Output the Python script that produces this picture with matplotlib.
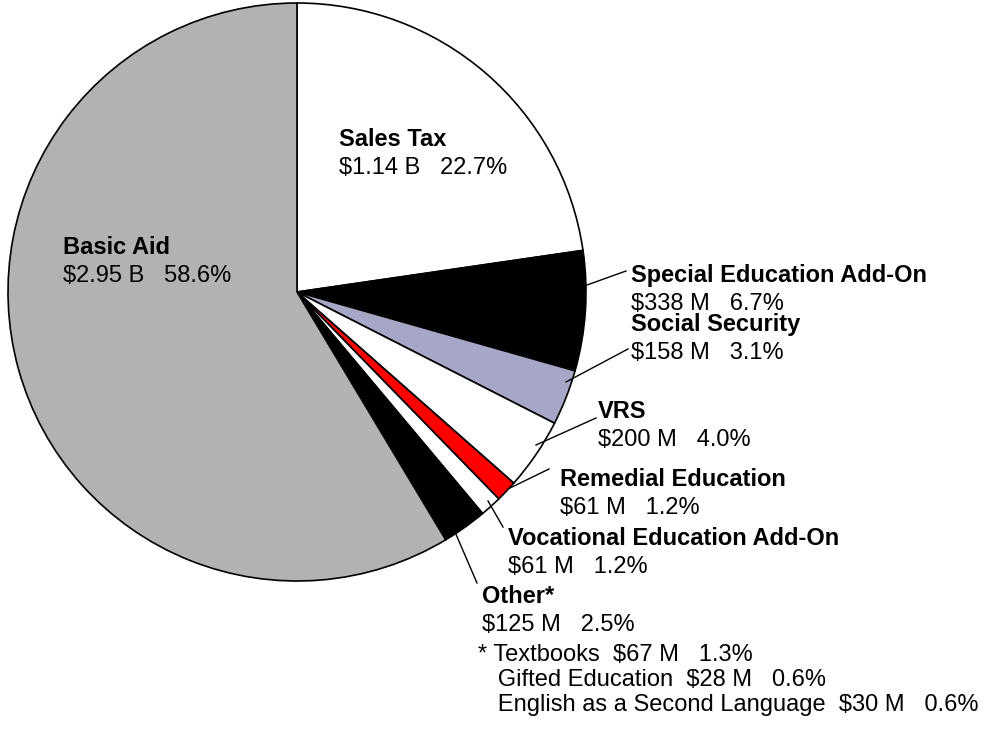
import matplotlib
matplotlib.use("Agg")
import matplotlib.pyplot as plt

plt.rcParams['font.family'] = ['Liberation Sans', 'DejaVu Sans']

# slices, clockwise from 12 o'clock
names = ["Sales Tax", "Special Education Add-On", "Social Security", "VRS",
         "Remedial Education", "Vocational Education Add-On", "Other*", "Basic Aid"]
amounts = ["$1.14 B", "$338 M", "$158 M", "$200 M", "$61 M", "$61 M", "$125 M", "$2.95 B"]
shares = [22.7, 6.7, 3.1, 4.0, 1.2, 1.2, 2.5, 58.6]
colors = ["white", "black", "#A6A6C6", "white", "#FF0000", "white", "black", "#B2B2B2"]

footnote = ["* Textbooks  $67 M   1.3%",
            "   Gifted Education  $28 M   0.6%",
            "   English as a Second Language  $30 M   0.6%"]

W, H = 987, 731


def fy(py):
    # pixel row (from top) -> data y
    return H - py


fig = plt.figure(figsize=(W / 100, H / 100), dpi=100)
ax = fig.add_axes([0, 0, 1, 1])

cx, cy, r = 297, 292, 289
ax.pie(shares, colors=colors, startangle=90, counterclock=False,
       center=(cx, fy(cy)), radius=r, normalize=True,
       wedgeprops=dict(edgecolor="black", linewidth=1.2))

# label anchor (left x, baseline of bold line) and leader line (pie end, label end)
label_pos = {
    0: (339, 146),
    1: (631, 282),
    2: (631, 331),
    3: (598, 418),
    4: (560, 486),
    5: (508, 545),
    6: (482, 603),
    7: (63, 254),
}
leaders = {
    1: ((587, 285), (626, 271)),
    2: ((566, 382), (628, 349)),
    3: ((536, 445), (596, 418)),
    4: ((510, 488), (549, 469)),
    5: ((488, 501), (503, 527)),
    6: ((455, 532), (477, 583)),
}

fs = 17
for i, name in enumerate(names):
    x, base = label_pos[i]
    ax.text(x, fy(base), name, fontsize=fs, fontweight="bold", va="baseline", ha="left")
    ax.text(x, fy(base + 28), f"{amounts[i]}   {shares[i]:.1f}%", fontsize=fs,
            va="baseline", ha="left")
    if i in leaders:
        (x0, y0), (x1, y1) = leaders[i]
        ax.plot([x0, x1], [fy(y0), fy(y1)], color="black", lw=1.0)

for k, line in enumerate(footnote):
    ax.text(478, fy(661 + 25 * k), line, fontsize=fs, va="baseline", ha="left")

ax.set_xlim(0, W)
ax.set_ylim(0, H)
ax.axis("off")

fig.savefig("out.png", dpi=100, facecolor="white")
